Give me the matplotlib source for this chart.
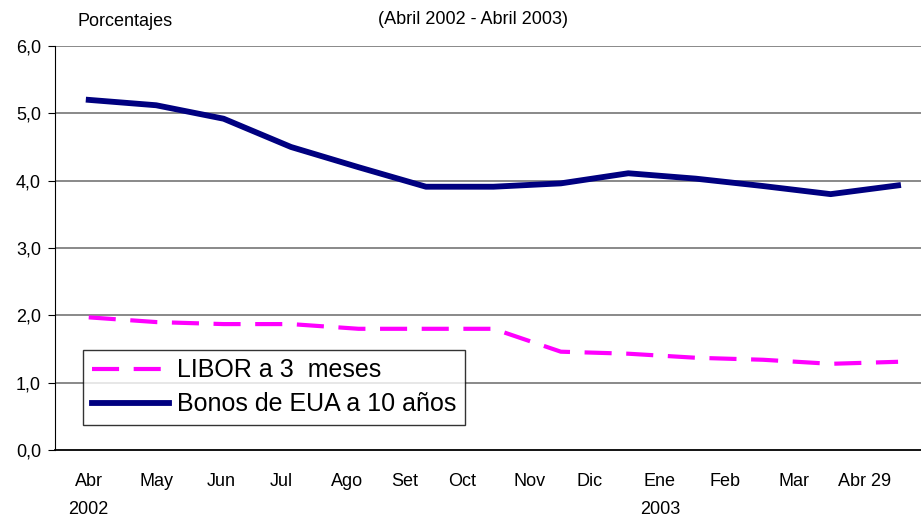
import matplotlib
matplotlib.use("Agg")
from matplotlib import pyplot as plt

plt.rcParams['font.family'] = ['Liberation Sans', 'DejaVu Sans']

months = ["Abr", "May", "Jun", "Jul", "Ago", "Set", "Oct", "Nov", "Dic",
          "Ene", "Feb", "Mar", "Abr 29"]
years = {0: "2002", 9: "2003"}
libor = [1.97, 1.90, 1.87, 1.87, 1.80, 1.80, 1.80, 1.46, 1.43, 1.37, 1.34, 1.28, 1.31]
bonos = [5.20, 5.12, 4.92, 4.50, 4.20, 3.91, 3.91, 3.96, 4.11, 4.03, 3.92, 3.80, 3.93]
yticks = [0, 1, 2, 3, 4, 5, 6]

# label placement as it shows in the original (slightly compressed)
label_pos = [0, 1.0, 1.97, 2.86, 3.83, 4.69, 5.53, 6.53, 7.43, 8.47, 9.44, 10.46, 11.51]

fig = plt.figure(figsize=(9.21, 5.19), dpi=100)
ax = fig.add_axes([55 / 921, 1 - 450 / 519, 866 / 921, 404 / 519])

x = list(range(len(months)))
ax.plot(x, libor, color="#FF00FF", lw=3.0, dashes=(6.5, 3.5), label="LIBOR a 3  meses")
ax.plot(x, bonos, color="#000080", lw=4.2, label="Bonos de EUA a 10 años")

ax.set_xlim(-0.50, 12.34)
ax.set_ylim(0, 6)
ax.set_yticks(yticks)
ax.set_yticklabels([f"{v:.1f}".replace(".", ",") for v in yticks], fontsize=13)
for v in yticks[1:]:
    ax.axhline(v, color="#808080", lw=1.3, zorder=0)

ax.set_xticks([])
for p, m in zip(label_pos, months):
    ax.text(p, -0.47, m, ha="center", va="center", fontsize=13)
for i, yr in years.items():
    ax.text(label_pos[i], -0.89, yr, ha="center", va="center", fontsize=13)

for s in ["top", "right"]:
    ax.spines[s].set_visible(False)
ax.spines["left"].set_color("black")
ax.spines["bottom"].set_color("black")
ax.spines["bottom"].set_linewidth(1.3)
ax.tick_params(axis="y", length=5, direction="out", pad=5)

fig.text(125 / 921, 1 - 22 / 519, "Porcentajes", ha="center", va="center", fontsize=13)
fig.text(473 / 921, 1 - 20 / 519, "(Abril 2002 - Abril 2003)", ha="center", va="center", fontsize=13)

leg = ax.legend(loc="lower left", bbox_to_anchor=((83 - 55) / 866, (450 - 425) / 404),
                fontsize=18, frameon=True, fancybox=False, handlelength=3.1,
                borderpad=0.35, labelspacing=0.4, handletextpad=0.3, borderaxespad=0)
leg.get_frame().set_edgecolor("black")
leg.get_frame().set_linewidth(1.0)

fig.savefig("out.png", dpi=100)
